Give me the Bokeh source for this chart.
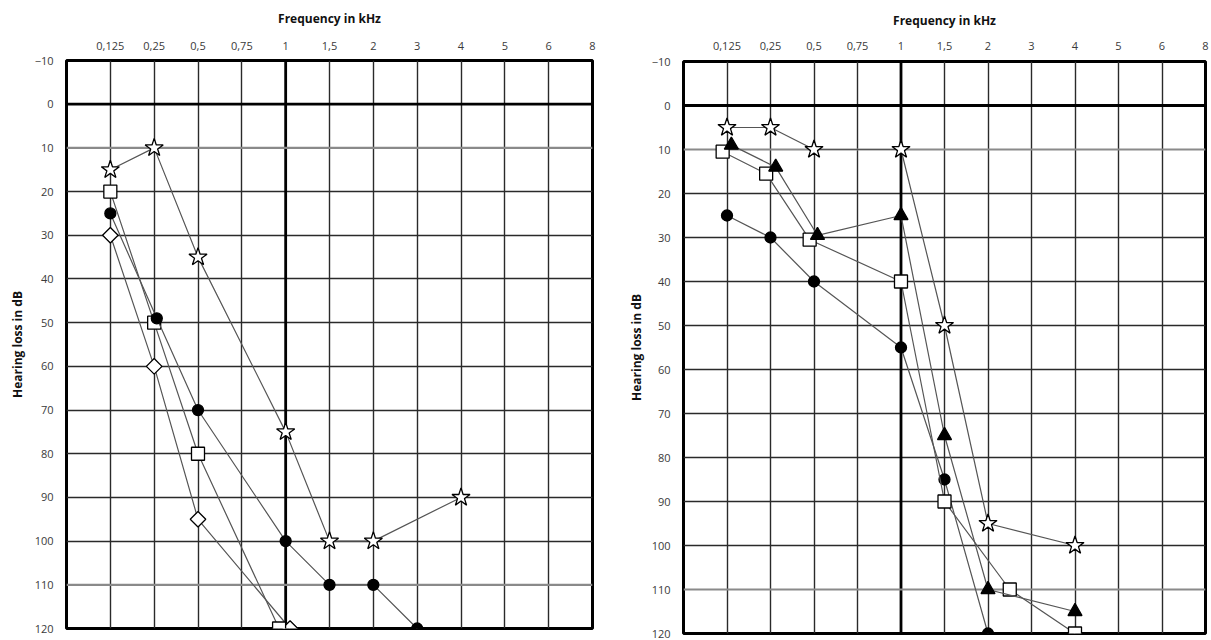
from bokeh.plotting import figure
from bokeh.layouts import row, column
from bokeh.models import Range1d, FixedTicker, Span
from bokeh.embed import file_html
from bokeh.resources import INLINE

# Frequency columns of the audiogram grid (position 1 = 0,125 kHz ... 12 = 8 kHz)
FREQ_LABELS = ["0,125", "0,25", "0,5", "0,75", "1", "1,5", "2", "3", "4", "5", "6", "8"]
FREQ_POS = list(range(1, 13))
DB_TICKS = list(range(-10, 121, 10))
THICK_FREQ = "1"      # emphasised vertical line
THICK_DB = 0          # emphasised horizontal line
GRAY_DB = [10, 110]   # lighter horizontal lines

# ---- Left audiogram (x in grid-column units) ----
L_star_x = [1, 2, 3, 5, 6, 7, 9]
L_star_y = [15, 10, 35, 75, 100, 100, 90]
L_square_x = [1, 2, 3, 4.85]
L_square_y = [20, 50, 80, 120]
L_circle_x = [1, 2.06, 3, 5, 6, 7, 8]
L_circle_y = [25, 49, 70, 100, 110, 110, 120]
L_diamond_x = [1, 2, 3, 5.1]
L_diamond_y = [30, 60, 95, 120]

# ---- Right audiogram ----
R_star_x = [1, 2, 3, 5, 6, 7, 9]
R_star_y = [5, 5, 10, 10, 50, 95, 100]
R_square_x = [0.9, 1.9, 2.9, 5, 6, 7.5, 9]
R_square_y = [10.5, 15.5, 30.5, 40, 90, 110, 120]
R_tri_x = [1.1, 2.12, 3.08, 5, 6, 7, 9]
R_tri_y = [9, 14, 29.5, 25, 75, 110, 115]
R_circle_x = [1, 2, 3, 5, 6, 7]
R_circle_y = [25, 30, 40, 55, 85, 120]

FONT = "Open Sans"
LINE_COLOR = "#555555"


def make_fig(width, height, bl, bt, br, bb, xl_standoff, xt_standoff, yt_standoff):
    p = figure(width=width, height=height, output_backend="svg", toolbar_location=None,
               x_range=Range1d(0, 12), y_range=Range1d(120, -10),
               x_axis_location="above", min_border_left=bl, min_border_top=bt,
               min_border_right=br, min_border_bottom=bb)
    p.background_fill_color = "white"
    p.border_fill_color = "white"
    p.outline_line_color = "black"
    p.outline_line_width = 3
    p.outline_line_alpha = 1

    xa = p.xaxis[0]
    xa.ticker = FixedTicker(ticks=FREQ_POS)
    xa.major_label_overrides = {pos: lab for pos, lab in zip(FREQ_POS, FREQ_LABELS)}
    xa.axis_label = "Frequency in kHz"
    ya = p.yaxis[0]
    ya.ticker = FixedTicker(ticks=DB_TICKS)
    ya.axis_label = "Hearing loss in dB"
    for ax in (xa, ya):
        ax.axis_line_color = None
        ax.major_tick_line_color = None
        ax.minor_tick_line_color = None
        ax.major_tick_out = 0
        ax.major_tick_in = 0
        ax.major_label_text_font = FONT
        ax.major_label_text_font_size = "11px"
        ax.major_label_text_color = "#3a3a3a"
        ax.axis_label_text_font = FONT
        ax.axis_label_text_font_size = "12px"
        ax.axis_label_text_font_style = "bold"
        ax.axis_label_text_color = "#111111"
    xa.major_label_standoff = xl_standoff
    xa.axis_label_standoff = xt_standoff
    ya.major_label_standoff = 13
    ya.axis_label_standoff = yt_standoff

    thick_x = FREQ_POS[FREQ_LABELS.index(THICK_FREQ)]
    p.xgrid.ticker = FixedTicker(ticks=[v for v in FREQ_POS[:-1] if v != thick_x])
    p.ygrid.ticker = FixedTicker(ticks=[v for v in DB_TICKS[1:-1] if v != THICK_DB and v not in GRAY_DB])
    for g in (p.xgrid, p.ygrid):
        g.grid_line_color = "#2a2a2a"
        g.grid_line_width = 1.4
        g.grid_line_alpha = 1
    p.add_layout(Span(location=thick_x, dimension="height", line_color="black",
                      line_width=2.8, level="underlay"))
    p.add_layout(Span(location=THICK_DB, dimension="width", line_color="black",
                      line_width=2.8, level="underlay"))
    for v in GRAY_DB:
        p.add_layout(Span(location=v, dimension="width", line_color="#8a8a8a",
                          line_width=2.2, level="underlay"))
    return p


def series(p, xs, ys, marker, size, fill, angle=0.0):
    p.line(xs, ys, line_color=LINE_COLOR, line_width=1.2)
    p.scatter(xs, ys, marker=marker, size=size, fill_color=fill, line_color="black",
              line_width=1.3, angle=angle)


p1 = make_fig(610, 640, 66, 60, 18, 12, 11, 12, 6)
series(p1, L_diamond_x, L_diamond_y, "square", 11, "white", angle=0.785398)
series(p1, L_square_x, L_square_y, "square", 13, "white")
series(p1, L_circle_x, L_circle_y, "circle", 11, "black")
series(p1, L_star_x, L_star_y, "star", 19, "white")

p2 = make_fig(601, 640, 73, 61, 6, 7, 12, 10, 4)
series(p2, R_circle_x, R_circle_y, "circle", 11, "black")
series(p2, R_square_x, R_square_y, "square", 13, "white")
series(p2, R_tri_x, R_tri_y, "triangle", 14, "black")
series(p2, R_star_x, R_star_y, "star", 19, "white")

layout = row(column(p1), column(p2))
open("out.html", "w").write(file_html(layout, INLINE))
